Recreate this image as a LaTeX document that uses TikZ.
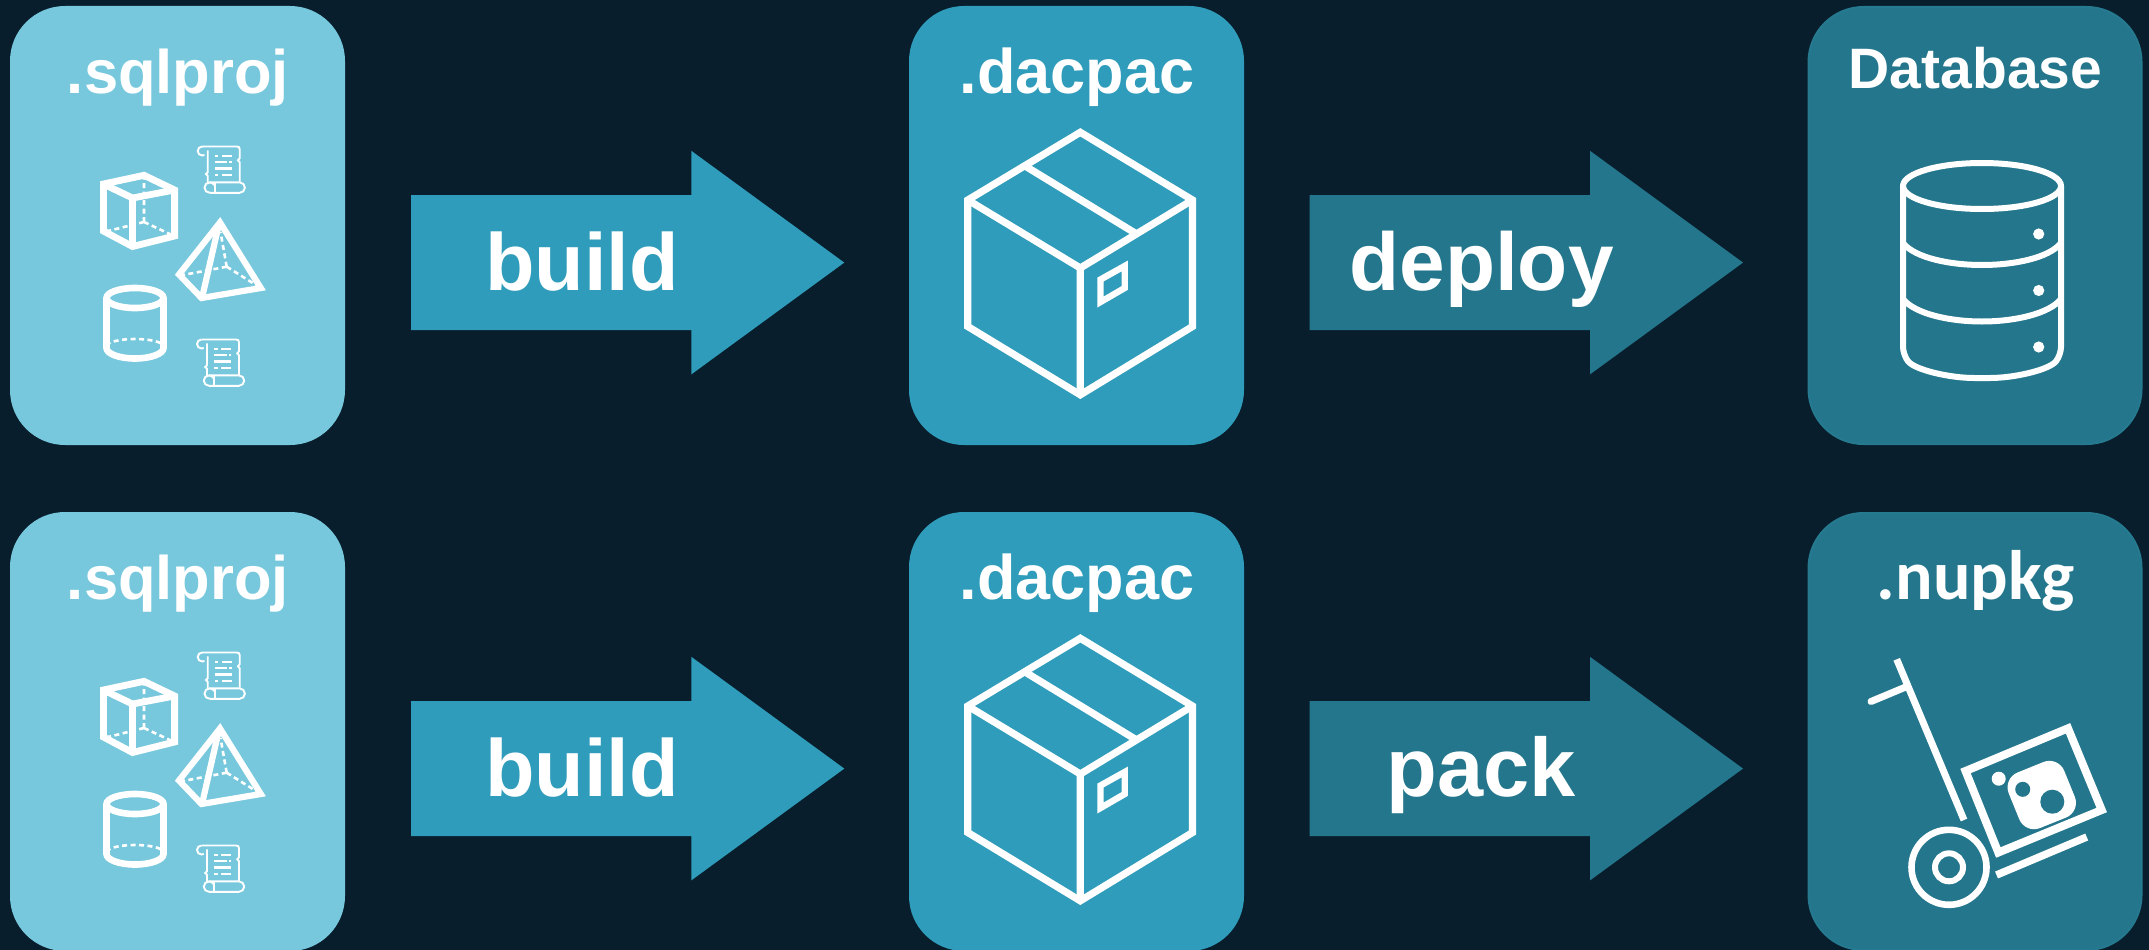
\documentclass[tikz,border=0pt]{standalone}
\usepackage{fontspec}
\setmainfont{Liberation Sans}
\newfontfamily\nufont{Carlito}
\usetikzlibrary{calc}
\definecolor{bgc}{HTML}{081E2C}
\definecolor{lightc}{HTML}{77C8DD}
\definecolor{midc}{HTML}{2E9CBA}
\definecolor{darkc}{HTML}{24768C}
\definecolor{darkedge}{HTML}{267A90}
\tikzset{
  card/.style={rounded corners=55pt,minimum width=335pt,minimum height=439pt,inner sep=0pt},
  lightcard/.style={card,fill=lightc},
  midcard/.style={card,fill=midc},
  darkcard/.style={card,fill=darkc,draw=darkedge,line width=2pt,minimum width=333pt,minimum height=437pt},
  cardtitle/.style={text=white,anchor=base,inner sep=0pt,font=\bfseries\fontsize{61.5}{62}\selectfont},
  dacpactitle/.style={cardtitle,font=\bfseries\fontsize{63}{64}\selectfont},
  arrowlabel/.style={text=white,anchor=base,inner sep=0pt,font=\bfseries\fontsize{81}{82}\selectfont},
  midarrow/.style={fill=midc},
  darkarrow/.style={fill=darkc},
  iconline/.style={draw=white,line join=miter,line cap=butt},
  hidden/.style={draw=white,line width=2.6pt,dash pattern=on 5pt off 3.5pt},
}
% block arrow: #1 tail-centre coordinate name, #2 style
\newcommand\blockarrow[2]{%
  \path[#2] (#1) ++(0,-67.6) -- ++(280.3,0) -- ++(0,-44.2) -- ++(153,111.8) -- ++(-153,111.8) -- ++(0,-44.2) -- ++(-280.3,0) -- cycle;}
\newcommand\scrollicon[1]{%
  \begin{scope}[shift={#1},line width=1.9pt,draw=white]
    \draw (5.5,1.2) -- (40,1.2) .. controls (42,1.2) and (43,2) .. (43,4) -- (43,13) -- (41.3,15) -- (43,17) -- (43,37);
    \draw (5.5,1.2) arc[start angle=-90,end angle=-300,radius=4.5];
    \draw (11,5) -- (11,27) -- (9.3,28.7) -- (11,30.5) -- (11,37.5);
    \draw (13,47.5) -- (43,47.5) arc[start angle=90,end angle=-90,radius=5.2] -- (13,37.1);
    \draw (13,47.5) arc[start angle=90,end angle=330,radius=5.2];
    \draw (18,38) -- (18,47);
    \draw[line width=2.1pt] (18.3,10.7) -- (21.5,10.7) (25,10.7) -- (35,10.7)
      (18.3,17) -- (30.5,17) (32.5,17) -- (35,17)
      (18.3,23.2) -- (35,23.2)
      (18.3,30) -- (21.5,30) (25,30) -- (35,30);
  \end{scope}}
\newcommand\sourceicons[1]{%
  \begin{scope}[shift={#1}]
    % cube
    \draw[hidden] (144,222) -- (144,177) (144,222) -- (108,231) (144,222) -- (172,235);
    \draw[iconline,line width=6.8pt] (103.4,184) -- (144,175.3) -- (174.6,190) -- (174.6,236) -- (132.5,246.5) -- (103.4,231) -- cycle;
    \draw[iconline,line width=6.8pt] (103.4,184) -- (132.5,198) -- (174.6,190) (132.5,198) -- (132.5,246.5);
    % pyramid
    \draw[hidden] (226.7,266.7) -- (220.5,232) (226.7,266.7) -- (183,275) (226.7,266.7) -- (256,285);
    \draw[iconline,line width=6.2pt] (220,222.5) -- (260.8,288) -- (201.5,298) -- (179,274.5) -- cycle;
    \draw[iconline,line width=6.2pt] (218.5,226) -- (202,298);
    % cylinder
    \draw[hidden] (107,346) arc[start angle=180,end angle=360,x radius=28,y radius=7];
    \draw[iconline,line width=6.6pt] (135,298) ellipse[x radius=28.5,y radius=10];
    \draw[iconline,line width=6.6pt] (106.5,298) -- (106.5,348) arc[start angle=180,end angle=0,x radius=28.5,y radius=10.5] -- (163.5,298);
    \scrollicon{(196.7,145.3)}
    \scrollicon{(196,338.3)}
  \end{scope}}
\newcommand\packageicon[1]{%
  \begin{scope}[shift={#1}]
    \draw[iconline,line width=7.2pt] (1080.3,132.3) -- (1192.5,200) -- (1192.5,326.5) -- (1080.3,394.8) -- (967.8,326.5) -- (967.8,200) -- cycle;
    \draw[iconline,line width=7.2pt] (967.8,200) -- (1080.3,268) -- (1192.5,200) (1080.3,268) -- (1080.3,394.8);
    \draw[iconline,line width=7.2pt] (1026.7,167) -- (1135,233);
    \draw[iconline,line width=6.4pt] (1100.5,279.5) -- (1124.7,266) -- (1124.7,288) -- (1100.5,302) -- cycle;
  \end{scope}}
\begin{document}
\begin{tikzpicture}[x=1pt,y=-1pt]
\useasboundingbox (0,0) rectangle (2149,950);
\fill[bgc] (0,0) rectangle (2149,950);

% cards
\node[lightcard] (src1) at (177.5,225.5) {};
\node[midcard]   (pkg1) at (1076.5,225.5) {};
\node[darkcard]  (db)   at (1975,225.5) {};
\node[lightcard] (src2) at (177.5,731.5) {};
\node[midcard]   (pkg2) at (1076.5,731.5) {};
\node[darkcard]  (nup)  at (1975,731.5) {};

% titles
\node[cardtitle] (t1) at (178,93.3) {.sqlproj};
\node[dacpactitle] (t2) at (1077,93.3) {.dacpac};
\node[cardtitle,font=\bfseries\fontsize{57}{60}\selectfont] (t3) at (1975.5,88.3) {Database};
\node[cardtitle] (t4) at (178,599.3) {.sqlproj};
\node[dacpactitle] (t5) at (1077,599.3) {.dacpac};
\node[cardtitle,font=\nufont\bfseries\fontsize{70}{72}\selectfont] (t6) at (1976,599) {.nupkg};

% icons
\sourceicons{(0,0)}
\sourceicons{(0,506)}
\packageicon{(0,0)}
\packageicon{(0,506)}

% database icon
\begin{scope}[line width=6pt,draw=white]
  \draw (1982,186) ellipse[x radius=79,y radius=23];
  \draw[rounded corners=8pt] (1903,186) -- (1903,355) .. controls (1915,370) and (1950,378) .. (1982,378) .. controls (2014,378) and (2049,370) .. (2061,355) -- (2061,186);
  \draw (1903,243) .. controls (1915,258) and (1950,265) .. (1982,265) .. controls (2014,265) and (2049,258) .. (2061,243);
  \draw (1903,299) .. controls (1915,314) and (1950,321.5) .. (1982,321.5) .. controls (2014,321.5) and (2049,314) .. (2061,299);
  \fill[white] (2038.7,234) circle[radius=5.6] (2038.7,290.5) circle[radius=5.6] (2038.7,347) circle[radius=5.6];
\end{scope}

% nupkg trolley icon
\begin{scope}[draw=white]
  \draw[line width=7pt] (1896.7,659.3) -- (1964,820);
  \draw[line width=7pt,line cap=round] (1871,701.5) -- (1905,687.3);
  \draw[line width=6.6pt] (1949,867.3) circle[radius=37.5];
  \draw[line width=6pt] (1949,867.3) circle[radius=14];
  \draw[line width=8pt,line join=miter] (1965.5,771) -- (2068,728.3) -- (2101.7,810) -- (1998.3,852.5) -- cycle;
  \draw[line width=7.5pt] (1996.5,875) -- (2086.7,837);
  \fill[white] (1998.7,778.7) circle[radius=7];
  \fill[white,rounded corners=16pt] (2002.7,778.5) -- (2058.2,756) -- (2080.8,811.6) -- (2025.2,834) -- cycle;
  \fill[darkc] (2022.7,789.3) circle[radius=7.5] (2052.3,801.7) circle[radius=12];
\end{scope}

% block arrows
\coordinate (a1) at (411,262.6);
\coordinate (a2) at (1309.7,262.6);
\coordinate (a3) at (411,768.6);
\coordinate (a4) at (1309.7,768.6);
\blockarrow{a1}{midarrow}
\blockarrow{a2}{darkarrow}
\blockarrow{a3}{midarrow}
\blockarrow{a4}{darkarrow}
\node[arrowlabel] (l1) at (582,290.7) {build};
\node[arrowlabel,font=\bfseries\fontsize{82}{84}\selectfont] (l2) at (1481.5,290.7) {deploy};
\node[arrowlabel] (l3) at (582,796.7) {build};
\node[arrowlabel,font=\bfseries\fontsize{83}{84}\selectfont] (l4) at (1481.5,796.7) {pack};
\end{tikzpicture}
\end{document}
